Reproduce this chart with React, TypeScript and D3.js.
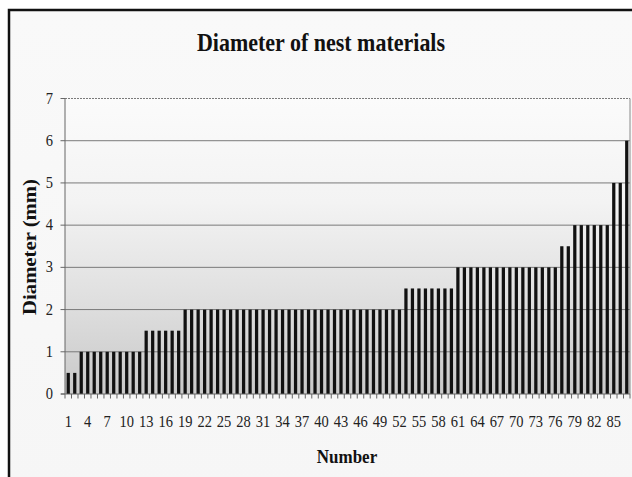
import React from "react";
import * as d3 from "d3";

// Diameter (mm) of each nest material item, sorted ascending
const diameters: number[] = [
  0.5, 0.5,
  1, 1, 1, 1, 1, 1, 1, 1, 1, 1,
  1.5, 1.5, 1.5, 1.5, 1.5, 1.5,
  2, 2, 2, 2, 2, 2, 2, 2, 2, 2, 2, 2, 2, 2, 2, 2, 2,
  2, 2, 2, 2, 2, 2, 2, 2, 2, 2, 2, 2, 2, 2, 2, 2, 2,
  2.5, 2.5, 2.5, 2.5, 2.5, 2.5, 2.5, 2.5,
  3, 3, 3, 3, 3, 3, 3, 3, 3, 3, 3, 3, 3, 3, 3, 3,
  3.5, 3.5,
  4, 4, 4, 4, 4, 4,
  5, 5,
  6,
];
const itemNumbers: number[] = diameters.map((_, i) => i + 1);
const xTickLabels: number[] = [1, 4, 7, 10, 13, 16, 19, 22, 25, 28, 31, 34, 37, 40, 43, 46, 49, 52, 55, 58, 61, 64, 67, 70, 73, 76, 79, 82, 85];
const yTicks: number[] = [0, 1, 2, 3, 4, 5, 6, 7];

const W = 632;
const H = 477;
const plot = { left: 65, right: 630, top: 98.5, bottom: 394 };
const FONT = "'Liberation Serif', 'Times New Roman', serif";
const STRETCH = 1.12;

export default function App() {
  const x = d3
    .scaleBand<number>()
    .domain(itemNumbers)
    .range([plot.left, plot.right])
    .paddingInner(0.5)
    .paddingOuter(0.25);
  const y = d3.scaleLinear().domain([0, 7]).range([plot.bottom, plot.top]);
  const step = x.step();
  const boundaries = d3.range(itemNumbers.length + 1).map((k) => plot.left + k * step);

  return (
    <svg
      width={W}
      height={H}
      style={{ position: "absolute", left: 0, top: 0, background: "#fff" }}
    >
      <defs>
        <linearGradient id="plotBg" x1="0" y1="0" x2="0" y2="1">
          <stop offset="0" stopColor="#fbfbfb" />
          <stop offset="0.35" stopColor="#f3f3f3" />
          <stop offset="0.7" stopColor="#dedede" />
          <stop offset="1" stopColor="#c9c9c9" />
        </linearGradient>
        <linearGradient id="chartBg" x1="0" y1="0" x2="0" y2="1">
          <stop offset="0" stopColor="#f9f9f9" />
          <stop offset="0.8" stopColor="#f6f6f6" />
          <stop offset="1" stopColor="#eeeeee" />
        </linearGradient>
      </defs>

      {/* chart area with frame */}
      <rect x={9} y={10} width={700} height={600} fill="url(#chartBg)" stroke="#111" strokeWidth={2.5} />

      {/* plot area */}
      <rect
        x={plot.left}
        y={plot.top}
        width={plot.right - plot.left}
        height={plot.bottom - plot.top}
        fill="url(#plotBg)"
      />

      {/* gridlines */}
      {yTicks.filter((t) => t > 0).map((t) => (
        <line
          key={`g${t}`}
          x1={plot.left}
          x2={plot.right}
          y1={y(t)}
          y2={y(t)}
          stroke="#7a7a7a"
          strokeWidth={1}
          strokeDasharray={t === 7 ? "2,1" : undefined}
        />
      ))}
      <line x1={plot.right} x2={plot.right} y1={plot.top} y2={plot.bottom} stroke="#8a8a8a" strokeWidth={1} />

      {/* bars */}
      {diameters.map((d, i) => (
        <rect
          key={`b${i}`}
          x={x(itemNumbers[i])!}
          y={y(d)}
          width={x.bandwidth()}
          height={plot.bottom - y(d)}
          fill="#111"
        />
      ))}

      {/* axes */}
      <line x1={plot.left} x2={plot.left} y1={plot.top} y2={plot.bottom} stroke="#666" strokeWidth={1} />
      <line x1={plot.left - 4} x2={plot.right} y1={plot.bottom} y2={plot.bottom} stroke="#666" strokeWidth={1} />
      {yTicks.map((t) => (
        <g key={`yt${t}`}>
          <line x1={plot.left - 4.5} x2={plot.left} y1={y(t)} y2={y(t)} stroke="#666" strokeWidth={1} />
          <text
            transform={`translate(${plot.left - 12},${y(t) + 5}) scale(1,${STRETCH})`}
            textAnchor="end"
            fontFamily={FONT}
            fontSize={14.5}
            fill="#222"
          >
            {t}
          </text>
        </g>
      ))}
      {boundaries.map((bx, k) => (
        <line key={`xt${k}`} x1={bx} x2={bx} y1={plot.bottom} y2={plot.bottom + 4.5} stroke="#666" strokeWidth={1} />
      ))}
      {xTickLabels.map((n) => (
        <text
          key={`xl${n}`}
          transform={`translate(${x(n)! + x.bandwidth() / 2},426.5) scale(1,${STRETCH})`}
          textAnchor="middle"
          fontFamily={FONT}
          fontSize={14.5}
          fill="#222"
        >
          {n}
        </text>
      ))}

      {/* titles */}
      <text
        transform={`translate(321,51) scale(1,${STRETCH})`}
        textAnchor="middle"
        fontFamily={FONT}
        fontWeight="bold"
        fontSize={22}
        fill="#111"
      >
        Diameter of nest materials
      </text>
      <text
        transform={`translate(347,462.5) scale(1,${STRETCH})`}
        textAnchor="middle"
        fontFamily={FONT}
        fontWeight="bold"
        fontSize={17}
        fill="#111"
      >
        Number
      </text>
      <text
        transform={`translate(36,247) rotate(-90) scale(${STRETCH},1)`}
        textAnchor="middle"
        fontFamily={FONT}
        fontWeight="bold"
        fontSize={18.5}
        fill="#111"
      >
        Diameter (mm)
      </text>
    </svg>
  );
}
